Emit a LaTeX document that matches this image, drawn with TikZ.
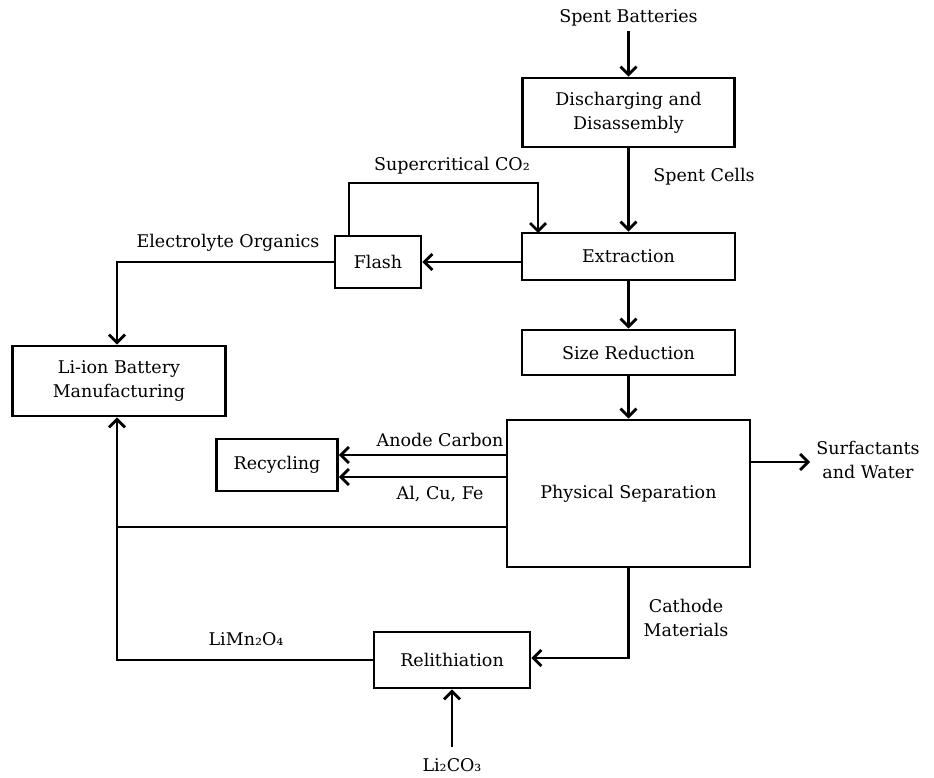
\documentclass[tikz,border=0pt]{standalone}
\usepackage{fontspec}
\setmainfont{DejaVu Serif}
\usetikzlibrary{arrows.meta}
\begin{document}
\begin{tikzpicture}[x=1pt,y=-1pt,
  every node/.style={font=\fontsize{17.5}{24}\selectfont},
  box/.style={draw,line width=2.8pt,minimum width=#1,inner sep=0pt,align=center},
  lbl/.style={align=center,inner sep=0pt},
  flow/.style={line width=2.8pt,-{Straight Barb[length=8pt,width=16pt,line width=2.8pt]}},
  plain/.style={line width=2.8pt}]
\useasboundingbox (0,0) rectangle (934,777);
% boxes
\node[box=212pt,minimum height=69pt] (dis) at (628.5,112.5) {Discharging and\\Disassembly};
\node[box=213pt,minimum height=47pt] (ext) at (628.5,256.5) {Extraction};
\node[box=86pt,minimum height=52pt] (fla) at (378,262) {Flash};
\node[box=213pt,minimum height=70pt] (lib) at (119,381) {Li-ion Battery\\Manufacturing};
\node[box=213pt,minimum height=45pt] (siz) at (628.5,352.5) {Size Reduction};
\node[box=243pt,minimum height=147pt] (phy) at (628.5,493.5) {Physical Separation};
\node[box=121pt,minimum height=52pt] (rec) at (277,465) {Recycling};
\node[box=156pt,minimum height=56pt] (rel) at (452,660) {Relithiation};
% labels
\node[lbl] (sb) at (628.5,18) {Spent Batteries};
\node[lbl] at (704,177) {Spent Cells};
\node[lbl] at (452,166) {Supercritical CO₂};
\node[lbl] at (228,243) {Electrolyte Organics};
\node[lbl] at (440,440) {Anode Carbon};
\node[lbl] at (440,494) {Al, Cu, Fe};
\node[lbl] (sur) at (868,460) {Surfactants\\and Water};
\node[lbl] at (686,618) {Cathode\\Materials};
\node[lbl] at (246,639) {LiMn₂O₄};
\node[lbl] (li2) at (452,765) {Li₂CO₃};
% coordinates
\coordinate (sbb) at (628.5,31);
\coordinate (sfx) at (810,462);
\coordinate (l2t) at (452,747);
% connectors
\draw[flow] (sbb) -- (dis.north);
\draw[flow] (dis.south) -- (ext.north);
\draw[flow] (ext.west |- fla.east) -- (fla.east);
\draw[flow] (fla.north -| 349,0) |- (538,183) -- (538,233);
\draw[flow] (fla.west) -- (117,262) -- (lib.north -| 117,0);
\draw[flow] (ext.south) -- (siz.north);
\draw[flow] (siz.south) -- (phy.north);
\draw[flow] (phy.west |- 0,455) -- (rec.east |- 0,455);
\draw[flow] (phy.west |- 0,477) -- (rec.east |- 0,477);
\draw[flow] (phy.east |- 0,462) -- (sfx);
\draw[plain] (phy.west |- 0,527) -- (117,527);
\draw[flow] (rel.west) -- (117,660) -- (lib.south -| 117,0);
\draw[flow] (phy.south) -- (628.5,658) -- (rel.east |- 0,658);
\draw[flow] (l2t) -- (rel.south);
\end{tikzpicture}
\end{document}
